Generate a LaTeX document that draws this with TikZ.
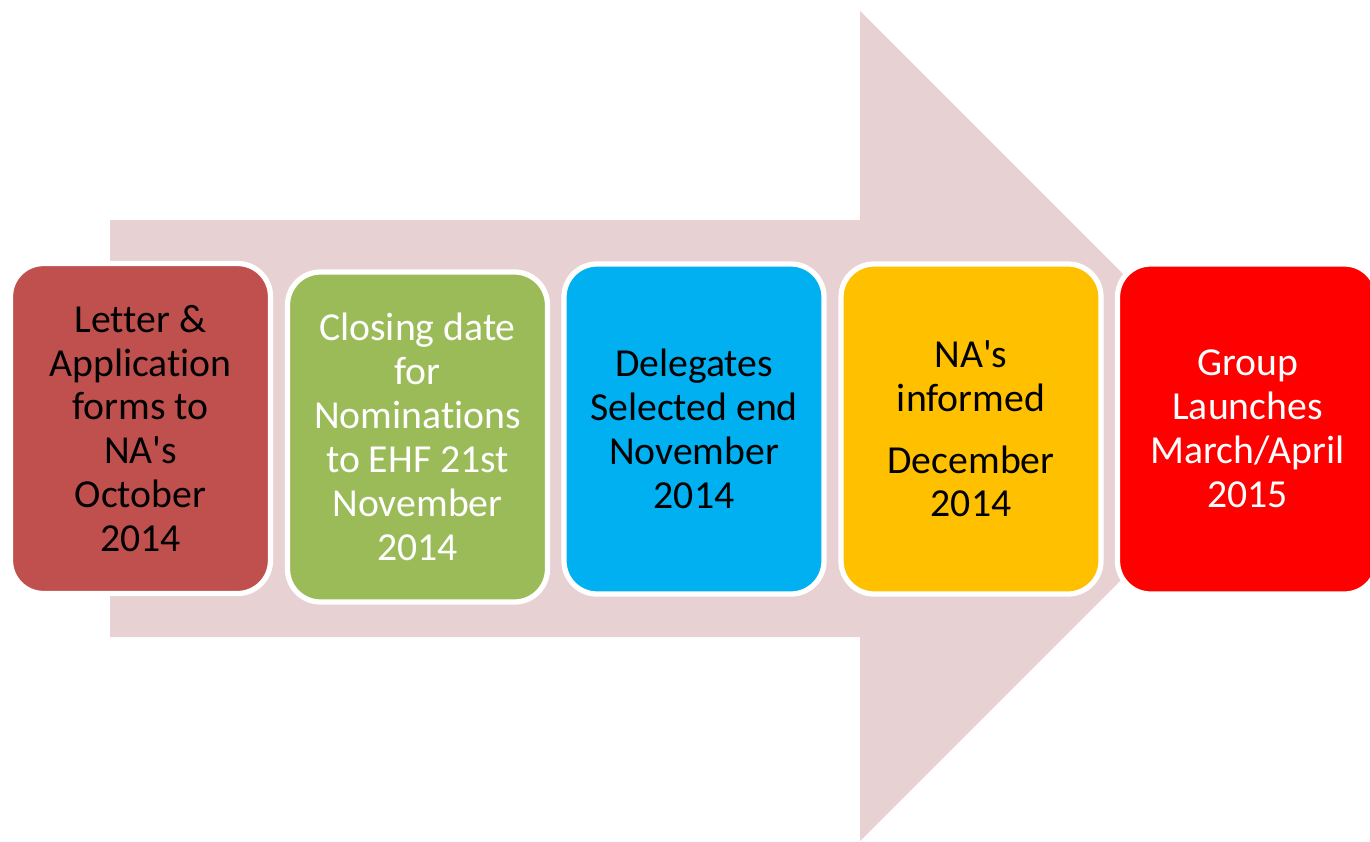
\documentclass[tikz,border=0pt]{standalone}
\usepackage{fontspec}
\setmainfont{Carlito}[Ligatures={NoCommon}]
\usetikzlibrary{positioning}
\definecolor{arrowpink}{RGB}{231,209,210}
\definecolor{brick}{RGB}{192,80,77}
\definecolor{olive}{RGB}{155,187,89}
\definecolor{skyblue}{RGB}{0,176,240}
\definecolor{amber}{RGB}{255,192,0}

\begin{document}
\begin{tikzpicture}[x=0.1mm,y=0.1mm,
    stage/.style={draw=white,line width=1.5pt,rounded corners=3.3mm,
        minimum width=26mm,minimum height=33mm,align=center,
        font=\fontsize{11.3}{12.5}\selectfont}]
            \useasboundingbox (0,0) rectangle (1370,841);
            % draw the big arrow
            \fill[arrowpink] (110,621) -- (860,621) -- (860,830) -- (1275,415)
                -- (860,0) -- (860,204) -- (110,204) -- cycle;
            % the five stages
            \node[stage,fill=brick] (letter) at (140.5,412.5)
                {Letter \&\\Application\\forms to\\NA\textquotesingle s\\October\\2014};
            \node[stage,fill=olive,text=white] (closing) at (417.5,404)
                {Closing date\\for\\Nominations\\to EHF 21st\\November\\2014};
            \node[stage,fill=skyblue] (delegates) at (694,412)
                {Delegates\\Selected end\\November\\2014};
            \node[stage,fill=amber] (informed) at (971,412)
                {NA\textquotesingle s\\informed\\[5pt]December\\2014};
            \node[stage,fill=red,text=white] (launch) at (1247.5,412)
                {Group\\Launches\\March/April\\2015};
        \end{tikzpicture}
\end{document}
